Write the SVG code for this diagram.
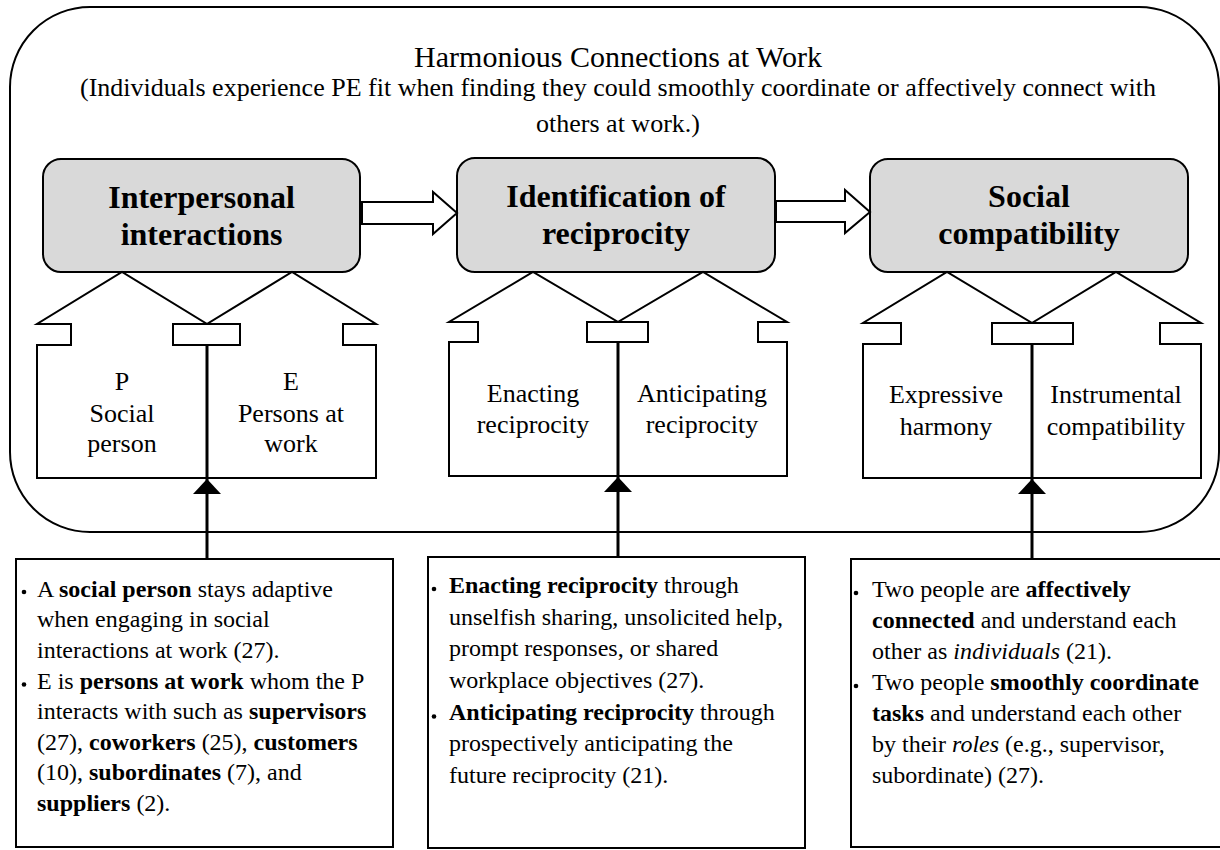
<svg xmlns="http://www.w3.org/2000/svg" width="1220" height="850" viewBox="0 0 1220 850">
  <style>
    text { font-family: Liberation Serif, Times New Roman, Times, serif; fill: #000; }
    .title { font-size: 30px; text-anchor: middle; }
    .sub { font-size: 26px; text-anchor: middle; }
    .head { font-size: 32px; font-weight: bold; text-anchor: middle; }
    .lbl { font-size: 26px; text-anchor: middle; }
    .note { font-size: 24px; }
    .b { font-weight: bold; }
    .i { font-style: italic; }
    .frame { fill: none; stroke: #000; stroke-width: 2; }
    .stage { fill: #d9d9d9; stroke: #000; stroke-width: 2; }
    .house { fill: #fff; stroke: #000; stroke-width: 2; stroke-linejoin: miter; }
    .flow { fill: #fff; stroke: #000; stroke-width: 2; stroke-linejoin: miter; }
    .notebox { fill: #fff; stroke: #000; stroke-width: 2; }
    .link { fill: none; stroke: #000; stroke-width: 3; }
    .tip { fill: #000; stroke: none; }
    .dot { fill: #000; }
  </style>

  <!-- outer frame -->
  <g id="frame">
    <rect class="frame" x="10" y="7" width="1209" height="525" rx="80" ry="80"/>
    <text class="title" x="618" y="67">Harmonious Connections at Work</text>
    <text class="sub" x="618" y="96">(Individuals experience PE fit when finding they could smoothly coordinate or affectively connect with</text>
    <text class="sub" x="618" y="132">others at work.)</text>
  </g>

  <!-- stage boxes -->
  <g id="stage-interactions">
    <rect class="stage" x="43" y="159" width="317" height="113" rx="18" ry="18"/>
    <text class="head" x="201.5" y="208">Interpersonal</text>
    <text class="head" x="201.5" y="245">interactions</text>
  </g>
  <g id="stage-reciprocity">
    <rect class="stage" x="457" y="158" width="318" height="114" rx="18" ry="18"/>
    <text class="head" x="616" y="207">Identification of</text>
    <text class="head" x="616" y="244">reciprocity</text>
  </g>
  <g id="stage-compatibility">
    <rect class="stage" x="870" y="159" width="318" height="113" rx="18" ry="18"/>
    <text class="head" x="1029" y="207">Social</text>
    <text class="head" x="1029" y="244">compatibility</text>
  </g>

  <!-- up-arrow callouts under each stage -->
  <g id="house-pe">
    <polygon class="house" points="37,478 37,345 71,345 71,324 37,324 122,272 207,324 173,324 173,345 207,345 207,478"/>
    <polygon class="house" points="207,478 207,345 240,345 240,324 207,324 292,272 376,324 343,324 343,345 376,345 376,478"/>
    <text class="lbl" x="122" y="390">P</text>
    <text class="lbl" x="122" y="422">Social</text>
    <text class="lbl" x="122" y="452">person</text>
    <text class="lbl" x="291" y="390">E</text>
    <text class="lbl" x="291" y="422">Persons at</text>
    <text class="lbl" x="291" y="452">work</text>
  </g>
  <g id="house-reciprocity">
    <polygon class="house" points="449,476 449,342 478,342 478,322 449,322 533,272 618,322 587,322 587,342 618,342 618,476"/>
    <polygon class="house" points="618,476 618,342 648,342 648,322 618,322 703,272 787,322 758,322 758,342 787,342 787,476"/>
    <text class="lbl" x="533" y="402">Enacting</text>
    <text class="lbl" x="533" y="433">reciprocity</text>
    <text class="lbl" x="702" y="402">Anticipating</text>
    <text class="lbl" x="702" y="433">reciprocity</text>
  </g>
  <g id="house-compatibility">
    <polygon class="house" points="863,478 863,344 901,344 901,323 863,323 947,272 1032,323 992,323 992,344 1032,344 1032,478"/>
    <polygon class="house" points="1032,478 1032,344 1073,344 1073,323 1032,323 1116,272 1201,323 1160,323 1160,344 1201,344 1201,478"/>
    <text class="lbl" x="946" y="403">Expressive</text>
    <text class="lbl" x="946" y="435">harmony</text>
    <text class="lbl" x="1116" y="403">Instrumental</text>
    <text class="lbl" x="1116" y="435">compatibility</text>
  </g>

  <!-- explanatory notes -->
  <g id="note-interactions">
    <rect class="notebox" x="16" y="559" width="377" height="288"/>
    <circle class="dot" cx="24" cy="592" r="2.3"/>
    <circle class="dot" cx="24" cy="684.5" r="2.3"/>
    <text class="note" x="37" y="596.5">A <tspan class="b">social person</tspan> stays adaptive</text>
    <text class="note" x="37" y="627">when engaging in social</text>
    <text class="note" x="37" y="657.5">interactions at work (27).</text>
    <text class="note" x="37" y="688.5">E is <tspan class="b">persons at work</tspan> whom the P</text>
    <text class="note" x="37" y="719">interacts with such as <tspan class="b">supervisors</tspan></text>
    <text class="note" x="37" y="749.5">(27), <tspan class="b">coworkers</tspan> (25), <tspan class="b">customers</tspan></text>
    <text class="note" x="37" y="780">(10), <tspan class="b">subordinates</tspan> (7), and</text>
    <text class="note" x="37" y="810.5"><tspan class="b">suppliers</tspan> (2).</text>
  </g>
  <g id="note-reciprocity">
    <rect class="notebox" x="428" y="557" width="377" height="291"/>
    <circle class="dot" cx="434" cy="589" r="2.3"/>
    <circle class="dot" cx="434" cy="716.5" r="2.3"/>
    <text class="note" x="449" y="593"><tspan class="b">Enacting reciprocity</tspan> through</text>
    <text class="note" x="449" y="624.7">unselfish sharing, unsolicited help,</text>
    <text class="note" x="449" y="656.3">prompt responses, or shared</text>
    <text class="note" x="449" y="688">workplace objectives (27).</text>
    <text class="note" x="449" y="719.7"><tspan class="b">Anticipating reciprocity</tspan> through</text>
    <text class="note" x="449" y="751.3">prospectively anticipating the</text>
    <text class="note" x="449" y="783">future reciprocity (21).</text>
  </g>
  <g id="note-compatibility">
    <rect class="notebox" x="851" y="559" width="380" height="288"/>
    <circle class="dot" cx="856" cy="593" r="2.3"/>
    <circle class="dot" cx="856" cy="686" r="2.3"/>
    <text class="note" x="872" y="597">Two people are <tspan class="b">affectively</tspan></text>
    <text class="note" x="872" y="628"><tspan class="b">connected</tspan> and understand each</text>
    <text class="note" x="872" y="659">other as <tspan class="i">individuals</tspan> (21).</text>
    <text class="note" x="872" y="690">Two people <tspan class="b">smoothly coordinate</tspan></text>
    <text class="note" x="872" y="721"><tspan class="b">tasks</tspan> and understand each other</text>
    <text class="note" x="872" y="752">by their <tspan class="i">roles</tspan> (e.g., supervisor,</text>
    <text class="note" x="872" y="783">subordinate) (27).</text>
  </g>

  <!-- connectors -->
  <g id="connectors">
    <polygon class="flow" points="362,202 433,202 433,192 457,213 433,234 433,224 362,224"/>
    <polygon class="flow" points="776,201 845,201 845,190 870,212 845,233 845,222 776,222"/>

    <line class="link" x1="207" y1="559" x2="207" y2="345"/>
    <polygon class="tip" points="207,479 193,494 221,494"/>
    <line class="link" x1="618" y1="557" x2="618" y2="342"/>
    <polygon class="tip" points="618,477 604,492 632,492"/>
    <line class="link" x1="1032" y1="559" x2="1032" y2="344"/>
    <polygon class="tip" points="1032,479 1018,494 1046,494"/>
  </g>
</svg>
